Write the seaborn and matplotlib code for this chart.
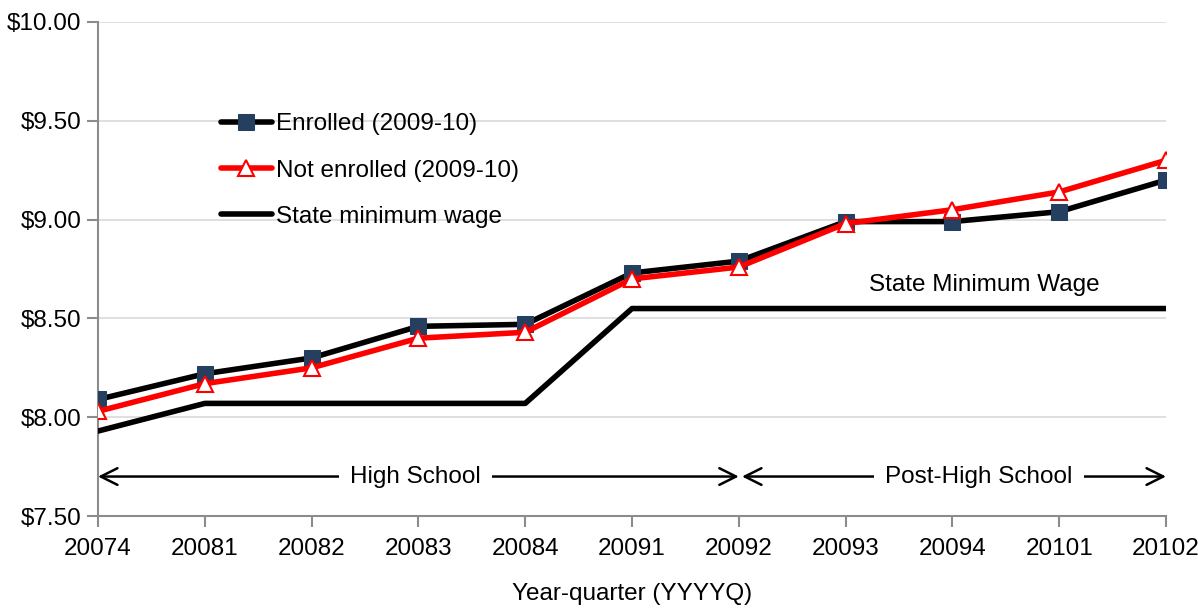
import pandas as pd
import matplotlib.pyplot as plt
import matplotlib.ticker as mticker
import seaborn as sns

quarters = ["20074", "20081", "20082", "20083", "20084", "20091",
            "20092", "20093", "20094", "20101", "20102"]
enrolled = [8.09, 8.22, 8.30, 8.46, 8.47, 8.73, 8.79, 8.99, 8.99, 9.04, 9.20]
not_enrolled = [8.03, 8.17, 8.25, 8.40, 8.43, 8.70, 8.76, 8.98, 9.05, 9.14, 9.30]
min_wage = [7.93, 8.07, 8.07, 8.07, 8.07, 8.55, 8.55, 8.55, 8.55, 8.55, 8.55]

sns.set_style("white")
plt.rcParams["font.family"] = ["Liberation Sans", "DejaVu Sans"]
plt.rcParams["text.color"] = "black"
plt.rcParams["axes.labelcolor"] = "black"
plt.rcParams["xtick.color"] = "black"
plt.rcParams["ytick.color"] = "black"

df = pd.DataFrame({"pos": range(len(quarters)), "quarter": quarters,
                   "enrolled": enrolled, "not_enrolled": not_enrolled,
                   "min_wage": min_wage})

fs = 17.5
fig = plt.figure(figsize=(11.98, 6.10), dpi=100)
ax = fig.add_axes([0.0818, 0.154, 0.8915, 0.810])

navy = "#243F60"
sns.lineplot(data=df, x="pos", y="enrolled", ax=ax, color="black", lw=4,
             marker="s", markersize=11, markerfacecolor=navy, markeredgecolor=navy,
             label="Enrolled (2009-10)", zorder=4)
sns.lineplot(data=df, x="pos", y="not_enrolled", ax=ax, color="red", lw=4,
             marker="^", markersize=11, markerfacecolor="white", markeredgecolor="red",
             markeredgewidth=1.5, label="Not enrolled (2009-10)", zorder=5)
sns.lineplot(data=df, x="pos", y="min_wage", ax=ax, color="black", lw=4,
             label="State minimum wage", zorder=3)

ax.set_xlim(0, len(quarters) - 1)
ax.set_ylim(7.5, 10.0)
ax.set_yticks([7.5, 8.0, 8.5, 9.0, 9.5, 10.0])
ax.yaxis.set_major_formatter(mticker.FuncFormatter(lambda v, p: f"${v:.2f}"))
ax.set_xticks(df["pos"])
ax.set_xticklabels(quarters)
ax.grid(axis="y", color="#d9d9d9", lw=1.2)
ax.set_axisbelow(True)
for s in ["top", "right"]:
    ax.spines[s].set_visible(False)
for s in ["left", "bottom"]:
    ax.spines[s].set_color("#8c8c8c")
    ax.spines[s].set_linewidth(1.5)
ax.tick_params(axis="both", which="major", bottom=True, left=True, direction="out",
               length=8, width=1.5, color="#8c8c8c", labelsize=fs, labelcolor="black")
ax.tick_params(axis="x", pad=8)
ax.tick_params(axis="y", pad=4)
ax.set_xlabel("Year-quarter (YYYYQ)", fontsize=fs, labelpad=16)
ax.set_ylabel("")

# period arrows
arrow_y = 7.70
ax.annotate("", xy=(0, arrow_y), xytext=(6, arrow_y),
            arrowprops=dict(arrowstyle="<->", lw=1.8, color="black",
                            mutation_scale=30, shrinkA=0, shrinkB=0))
ax.annotate("", xy=(6.03, arrow_y), xytext=(10, arrow_y),
            arrowprops=dict(arrowstyle="<->", lw=1.8, color="black",
                            mutation_scale=30, shrinkA=0, shrinkB=0))
ax.text(2.97, arrow_y, "High School", ha="center", va="center", fontsize=fs,
        bbox=dict(fc="white", ec="none", pad=8))
ax.text(8.25, arrow_y, "Post-High School", ha="center", va="center", fontsize=fs,
        bbox=dict(fc="white", ec="none", pad=8))
ax.text(8.3, 8.67, "State Minimum Wage", ha="center", va="center", fontsize=fs)

ax.legend(loc="upper left", bbox_to_anchor=(0.106, 0.835), frameon=False,
          fontsize=fs, handlelength=2.1, handletextpad=0.15, labelspacing=1.0,
          borderaxespad=0)

fig.savefig("out.png", dpi=100)
